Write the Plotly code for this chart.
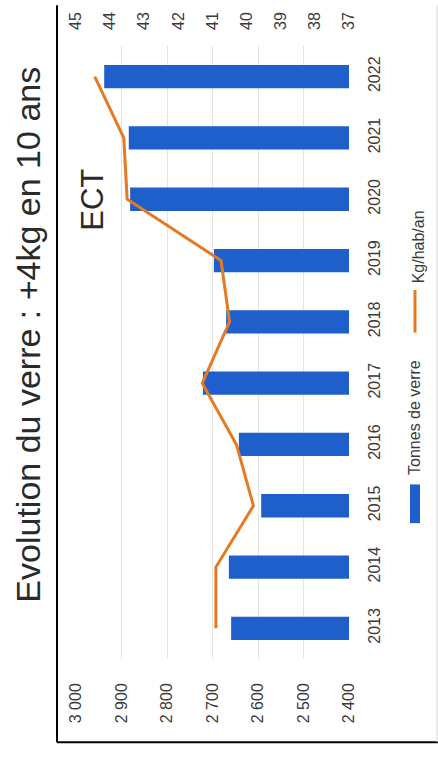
import plotly.graph_objects as go

years = ["2013", "2014", "2015", "2016", "2017", "2018", "2019", "2020", "2021", "2022"]
tonnes = [2659, 2664, 2593, 2642, 2721, 2670, 2697, 2881, 2884, 2938]
kg_hab = [40.9, 40.9, 39.8, 40.3, 41.3, 40.5, 40.75, 43.5, 43.6, 44.45]
tonnes_ticks = [2400, 2500, 2600, 2700, 2800, 2900, 3000]
tonnes_labels = ["2 400", "2 500", "2 600", "2 700", "2 800", "2 900", "3 000"]
kg_ticks = [37, 38, 39, 40, 41, 42, 43, 44, 45]

BLUE = "#1F5FCB"
ORANGE = "#E57A23"
FONT = "Liberation Sans"
TXT = "#3a3a3a"

W, H = 438, 759
L, R, T, B = 76, 89, 41, 100
PW, PH = W - L - R, H - T - B


def px(x):
    return (x - L) / PW


def py(y):
    return (H - B - y) / PH


fig = go.Figure()
fig.add_trace(go.Bar(y=years, x=tonnes, orientation="h", marker=dict(color=BLUE, line=dict(width=0)),
                     name="Tonnes de verre", showlegend=False))
fig.add_trace(go.Scatter(y=years, x=kg_hab, xaxis="x2", mode="lines",
                         line=dict(color=ORANGE, width=3), name="Kg/hab/an", showlegend=False))

fig.update_layout(
    width=W, height=H,
    margin=dict(l=L, r=R, t=T, b=B),
    paper_bgcolor="white", plot_bgcolor="white",
    bargap=0.62,
    font=dict(family=FONT, color=TXT),
    xaxis=dict(range=[3000, 2400], tickvals=tonnes_ticks, ticktext=tonnes_labels, tickangle=-90,
               showgrid=True, gridcolor="#E4E4E4", gridwidth=1, zeroline=False, showline=False,
               ticks="", ticklabelstandoff=20, tickfont=dict(size=16, family=FONT, color=TXT)),
    xaxis2=dict(overlaying="x", side="top", range=[45, 37], tickvals=kg_ticks, tickangle=-90,
                showgrid=False, zeroline=False, showline=False, ticks="", ticklabelstandoff=15,
                tickfont=dict(size=16, family=FONT, color=TXT)),
    yaxis=dict(type="category", categoryorder="array", categoryarray=years, side="right",
               tickangle=-90, showgrid=False, zeroline=False, showline=False, ticks="",
               ticklabelstandoff=14, tickfont=dict(size=16, family=FONT, color=TXT)),
)

annotations = [
    dict(text="Evolution du verre : +4kg en 10 ans", x=px(28), y=py(332), textangle=-90,
         font=dict(size=34, family=FONT, color="#2a2a2a")),
    dict(text="ECT", x=px(93), y=py(196), textangle=-90, font=dict(size=31, family=FONT, color="#2a2a2a")),
    dict(text="Tonnes de verre", x=px(415), y=py(416), textangle=-90, font=dict(size=16, family=FONT, color=TXT)),
    dict(text="Kg/hab/an", x=px(418), y=py(244), textangle=-90, font=dict(size=16, family=FONT, color=TXT)),
]
for a in annotations:
    a.update(xref="paper", yref="paper", showarrow=False, xanchor="center", yanchor="middle")
fig.update_layout(annotations=annotations)

shapes = [
    # legend swatches
    dict(type="rect", x0=px(410), x1=px(420), y0=py(522), y1=py(483), fillcolor=BLUE, line=dict(width=0)),
    dict(type="line", x0=px(415), x1=px(415), y0=py(330), y1=py(287), line=dict(color=ORANGE, width=3)),
    # outer frame
    dict(type="line", x0=px(57), x1=px(57), y0=py(743), y1=py(0), line=dict(color="black", width=2)),
    dict(type="line", x0=px(57), x1=px(438), y0=py(743), y1=py(743), line=dict(color="black", width=2)),
    dict(type="line", x0=px(437), x1=px(437), y0=py(743), y1=py(0), line=dict(color="#d8d8d8", width=1)),
]
for s in shapes:
    s.update(xref="paper", yref="paper", layer="above")
fig.update_layout(shapes=shapes)

fig.write_html("out.html", config={"displayModeBar": False},
               post_script="document.body.style.margin='0';document.body.style.overflow='hidden';")
